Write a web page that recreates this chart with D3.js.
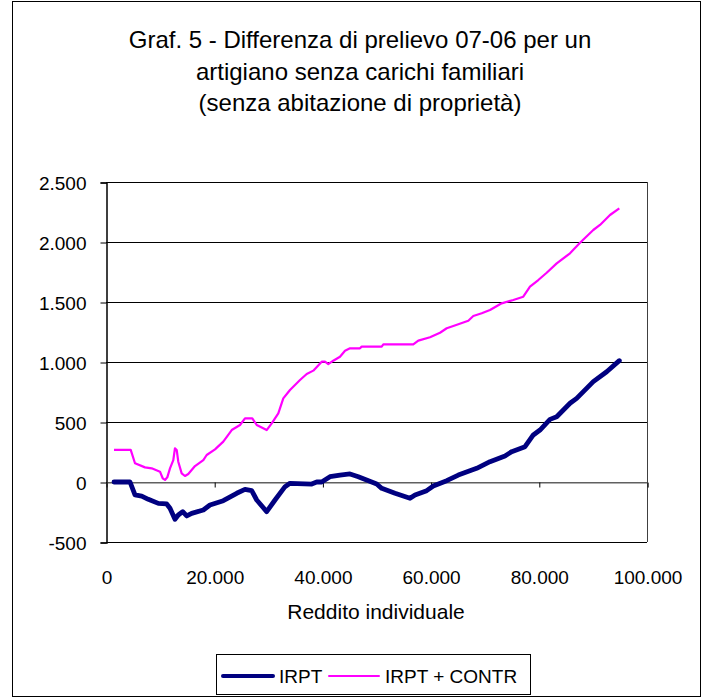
<!DOCTYPE html>
<html>
<head>
<meta charset="utf-8">
<script src="https://cdn.jsdelivr.net/npm/d3@7"></script>
<style>
  html, body { margin: 0; padding: 0; background: #fff; }
  svg { display: block; font-family: "Liberation Sans", Arial, sans-serif; }
</style>
</head>
<body>
<svg id="chart" width="710" height="699"></svg>
<script>
// Income levels (euro) and the 2007-2006 tax difference for each series
const irptIncome = [1480, 4440, 5360, 6600, 7820, 9670, 11220, 11830, 12750, 13360, 14180, 14920, 15840,
  17990, 19220, 21680, 24160, 25690, 26930, 27860, 29700, 31240, 33090, 34010, 38020, 38950, 39870,
  41400, 43250, 45100, 46640, 50040, 50960, 53420, 56190, 57120, 59280, 60500, 62980, 65120, 68520,
  70980, 73750, 74990, 77450, 78980, 80220, 82070, 83310, 85770, 87000, 90070, 92550, 94880];
const irptValues = [0, 0, -108, -117, -144, -178, -183, -219, -311, -275, -247, -283, -261,
  -233, -192, -156, -94, -61, -72, -150, -247, -150, -39, -11, -17, 0, 0,
  44, 58, 67, 44, -17, -53, -94, -136, -108, -72, -33, 11, 58, 114,
  169, 217, 253, 294, 392, 433, 522, 544, 656, 697, 836, 919, 1011];

const contrIncome = [1480, 4570, 5360, 7210, 8450, 9980, 10480, 10910, 11330, 11830, 12440, 12750, 13070,
  13360, 13990, 14600, 15210, 16450, 17990, 18610, 20150, 21680, 23240, 24770, 25690, 27040, 27860,
  29700, 30630, 31850, 32770, 34010, 35860, 37100, 38320, 39870, 40480, 41090, 42010, 43250, 44180,
  45100, 46950, 47260, 50960, 51260, 56800, 57730, 59890, 61740, 62980, 64200, 66970, 67890, 69450,
  70980, 73140, 75290, 77130, 78370, 79910, 81460, 83310, 85770, 87620, 90070, 91310, 93160, 94880];
const contrValues = [267, 267, 156, 122, 114, 86, 31, 17, 39, 114, 183, 281, 267,
  169, 72, 50, 67, 133, 183, 225, 272, 336, 433, 475, 531, 531, 475,
  433, 489, 572, 697, 767, 850, 900, 928, 1003, 1003, 983, 1011, 1044, 1094,
  1114, 1114, 1128, 1128, 1147, 1147, 1178, 1206, 1244, 1281, 1300, 1344, 1383, 1406,
  1433, 1489, 1517, 1544, 1628, 1683, 1744, 1822, 1906, 1994, 2100, 2142, 2225, 2281];

const xTicks = [0, 20000, 40000, 60000, 80000, 100000];
const yTicks = [-500, 0, 500, 1000, 1500, 2000, 2500];

const titleLines = [
  "Graf. 5 - Differenza di prelievo 07-06 per un",
  "artigiano senza carichi familiari",
  "(senza abitazione di proprietà)"
];
const xTitle = "Reddito individuale";
const seriesNames = ["IRPT", "IRPT + CONTR"];
const seriesColors = ["#000080", "#FF00FF"];

const it = d3.formatLocale({ decimal: ",", thousands: ".", grouping: [3], currency: ["", " €"], minus: "-" });
const fmt = it.format(",d");

const svg = d3.select("#chart");

// outer chart frame
svg.append("rect")
  .attr("x", 12.5).attr("y", 1.5).attr("width", 688).attr("height", 695)
  .attr("fill", "#fff").attr("stroke", "#000").attr("stroke-width", 1);

// title
svg.append("g").selectAll("text").data(titleLines).join("text")
  .attr("x", 360).attr("y", (d, i) => 48 + i * 31.5)
  .attr("text-anchor", "middle")
  .attr("font-size", 24)
  .attr("fill", "#000")
  .text(d => d);

const plot = { left: 106, right: 647, top: 182, bottom: 542 };
const x = d3.scaleLinear().domain([0, 100000]).range([plot.left, plot.right]);
const y = d3.scaleLinear().domain([-500, 2500]).range([plot.bottom, plot.top]);

// horizontal gridlines
svg.append("g").selectAll("line").data(yTicks).join("line")
  .attr("x1", plot.left).attr("x2", plot.right)
  .attr("y1", d => Math.round(y(d)) + 0.5).attr("y2", d => Math.round(y(d)) + 0.5)
  .attr("stroke", d => d === 0 ? "#606060" : "#000").attr("stroke-width", 1);

// plot area border (right side)
svg.append("line")
  .attr("x1", plot.right + 0.5).attr("x2", plot.right + 0.5)
  .attr("y1", plot.top).attr("y2", plot.bottom)
  .attr("stroke", "#404040");

// value axis
const yAxis = d3.axisLeft(y).tickValues(yTicks).tickSize(6).tickFormat(fmt);
const gy = svg.append("g").attr("transform", `translate(${plot.left + 0.5},0.5)`).call(yAxis);
gy.select(".domain").attr("stroke", "#000").attr("stroke-width", 1.5);
gy.selectAll(".tick line").attr("stroke", "#000");
gy.selectAll(".tick text")
  .attr("x", -20).attr("dy", "0.35em")
  .attr("font-size", 19).attr("font-family", "Liberation Sans, Arial, sans-serif").attr("fill", "#000");

// category axis crossing at zero, labels placed low
const xAxis = d3.axisBottom(x).tickValues(xTicks).tickSize(5).tickFormat(fmt);
const gx = svg.append("g").attr("transform", `translate(0.5,${Math.round(y(0)) + 0.5})`).call(xAxis);
gx.select(".domain").attr("stroke", "#606060");
gx.selectAll(".tick line").attr("stroke", "#000");
gx.selectAll(".tick text")
  .attr("y", 577 - (Math.round(y(0)) + 0.5)).attr("dy", "0.35em")
  .attr("font-size", 19).attr("font-family", "Liberation Sans, Arial, sans-serif").attr("fill", "#000");

// axis title
svg.append("text")
  .attr("x", 376).attr("y", 612).attr("dy", "0.35em")
  .attr("text-anchor", "middle").attr("font-size", 21)
  .text(xTitle);

// series lines
const line = d3.line().x(d => x(d[0])).y(d => y(d[1]));
const contrData = contrIncome.map((v, i) => [v, contrValues[i]]);
const irptData = irptIncome.map((v, i) => [v, irptValues[i]]);

svg.append("path").datum(contrData)
  .attr("d", line).attr("fill", "none")
  .attr("stroke", seriesColors[1]).attr("stroke-width", 2.2)
  .attr("stroke-linejoin", "round");

svg.append("path").datum(irptData)
  .attr("d", line).attr("fill", "none")
  .attr("stroke", seriesColors[0]).attr("stroke-width", 4.8)
  .attr("stroke-linejoin", "round").attr("stroke-linecap", "round");

// legend
const lg = svg.append("g");
lg.append("rect")
  .attr("x", 216.5).attr("y", 654.5).attr("width", 314).attr("height", 40)
  .attr("fill", "#fff").attr("stroke", "#000");
const legendItems = [
  { name: seriesNames[0], color: seriesColors[0], width: 4, x0: 223 },
  { name: seriesNames[1], color: seriesColors[1], width: 2, x0: 329 }
];
legendItems.forEach(d => {
  lg.append("line")
    .attr("x1", d.x0).attr("x2", d.x0 + 50).attr("y1", 676).attr("y2", 676)
    .attr("stroke", d.color).attr("stroke-width", d.width).attr("stroke-linecap", "round");
  lg.append("text")
    .attr("x", d.x0 + 56).attr("y", 676).attr("dy", "0.35em")
    .attr("font-size", 19).text(d.name);
});
</script>
</body>
</html>
